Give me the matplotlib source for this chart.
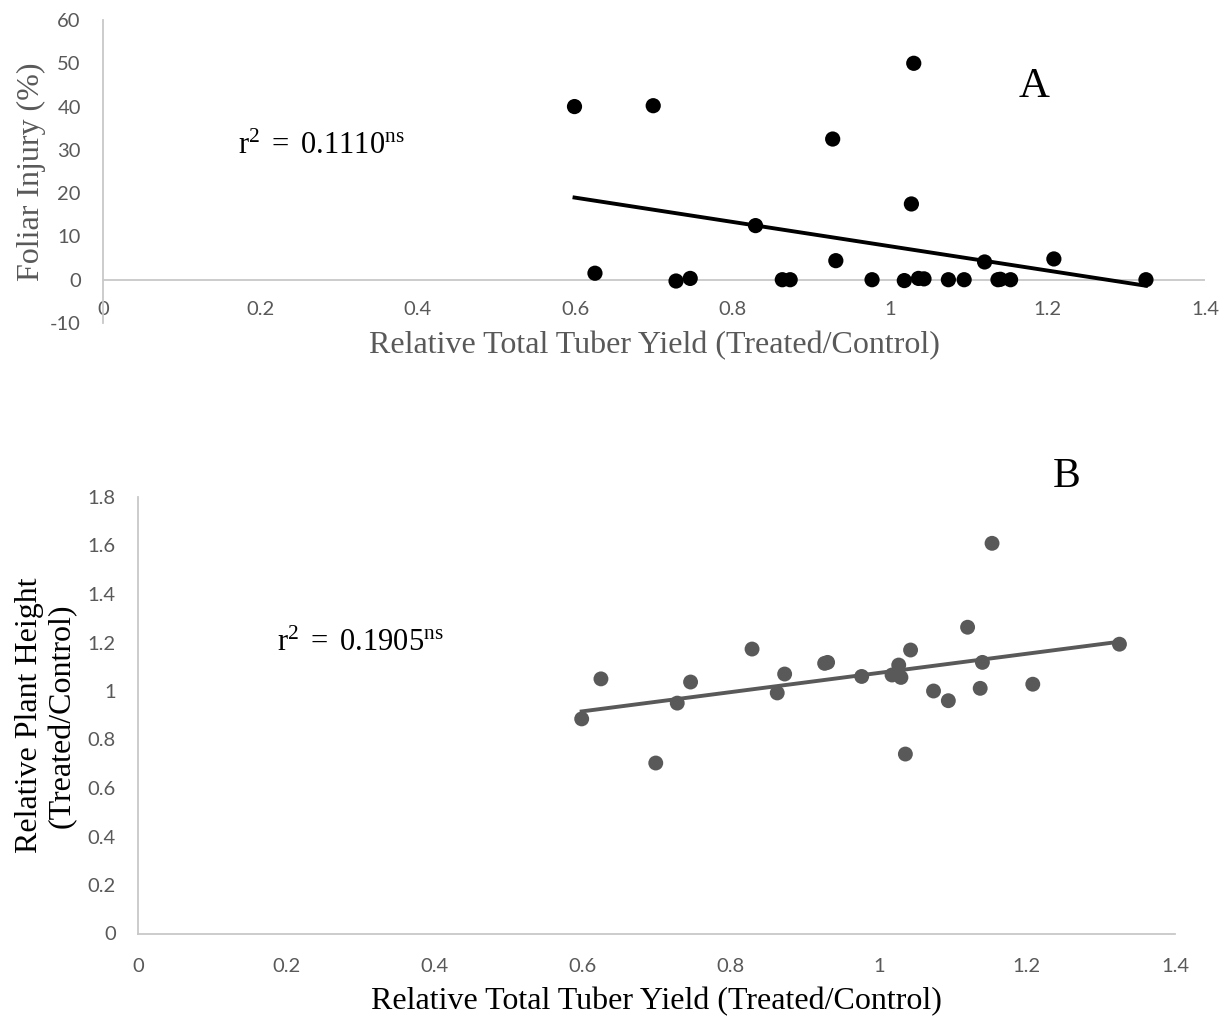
import numpy as np
import matplotlib
matplotlib.use("Agg")
import matplotlib.pyplot as plt

# ---- data ----
yield_rel = [0.599, 0.625, 0.699, 0.728, 0.746, 0.829, 0.863, 0.873, 0.927, 0.931,
             0.977, 1.018, 1.027, 1.030, 1.036, 1.043, 1.074, 1.094, 1.120, 1.137,
             1.140, 1.153, 1.208, 1.325]
foliar_injury = [40.0, 1.5, 40.2, -0.3, 0.3, 12.5, 0.0, 0.0, 32.5, 4.4,
                 0.0, -0.2, 17.5, 50.0, 0.3, 0.2, 0.0, 0.0, 4.1, 0.0,
                 0.1, 0.0, 4.8, 0.0]
plant_height = [0.885, 1.05, 0.703, 0.95, 1.037, 1.173, 0.992, 1.07, 1.114, 1.118,
                1.06, 1.066, 1.107, 1.056, 0.74, 1.169, 1.0, 0.96, 1.263, 1.011,
                1.118, 1.609, 1.028, 1.193]
xticks = [0, 0.2, 0.4, 0.6, 0.8, 1, 1.2, 1.4]
xticklabels = ["0", "0.2", "0.4", "0.6", "0.8", "1", "1.2", "1.4"]
yticks_a = [-10, 0, 10, 20, 30, 40, 50, 60]
yticks_b = [0, 0.2, 0.4, 0.6, 0.8, 1, 1.2, 1.4, 1.6, 1.8]
yticklabels_b = ["0", "0.2", "0.4", "0.6", "0.8", "1", "1.2", "1.4", "1.6", "1.8"]
r2_a = "0.1110"
r2_b = "0.1905"

plt.rcParams['mathtext.fontset'] = 'custom'
plt.rcParams['mathtext.rm'] = 'Liberation Serif'
plt.rcParams['mathtext.it'] = 'Liberation Serif:italic'

W, H = 1230, 1023
fig = plt.figure(figsize=(W / 100, H / 100), dpi=100)

tick_font = dict(family='Lato', size=14.5, color='#595959')
serif = 'Liberation Serif'
gray = '#595959'
axis_gray = '#c8c8c8'

x = np.array(yield_rel)

# ---------------- Panel A ----------------
axA = fig.add_axes([103 / W, 1 - 323 / H, (1205 - 103) / W, (323 - 20) / H])
axA.set_xlim(0, 1.4)
axA.set_ylim(-10, 60)
axA.axhline(0, color=axis_gray, lw=1.3, zorder=1)
axA.scatter(x, foliar_injury, s=120, color='black', edgecolors='none', zorder=3)
ka = np.polyfit(x, foliar_injury, 1)
xl = np.array([x.min(), x.max()])
axA.plot(xl, np.polyval(ka, xl), color='black', lw=2.8, zorder=2)
for s in ['top', 'right', 'bottom']:
    axA.spines[s].set_visible(False)
axA.spines['left'].set_color(axis_gray)
axA.spines['left'].set_linewidth(1.3)
axA.set_xticks(xticks)
axA.set_xticklabels(xticklabels, fontdict=tick_font)
axA.set_yticks(yticks_a)
axA.set_yticklabels([str(v) for v in yticks_a], fontdict=tick_font)
axA.tick_params(axis='x', length=0, pad=-16)
axA.tick_params(axis='y', length=0, pad=16)
axA.set_xlabel("Relative Total Tuber Yield (Treated/Control)", family=serif,
               size=23, color=gray, labelpad=6)
axA.set_ylabel("Foliar Injury (%)", family=serif, size=23, color=gray, labelpad=3)
fig.text(238 / W, 1 - 145 / H, r"$\mathrm{r^{2}\ =\ %s^{ns}}$" % r2_a,
         size=22, ha='left', va='center')
fig.text(1034 / W, 1 - 87 / H, "A", family=serif, size=31, ha='center', va='center')

# ---------------- Panel B ----------------
axB = fig.add_axes([138 / W, 1 - 933.5 / H, (1175 - 138) / W, (933.5 - 497) / H])
axB.set_xlim(0, 1.4)
axB.set_ylim(0, 1.8)
axB.scatter(x, plant_height, s=115, color=gray, edgecolors='none', zorder=3)
kb = np.polyfit(x, plant_height, 1)
axB.plot(xl, np.polyval(kb, xl), color=gray, lw=2.8, zorder=2)
for s in ['top', 'right']:
    axB.spines[s].set_visible(False)
for s in ['left', 'bottom']:
    axB.spines[s].set_color(axis_gray)
    axB.spines[s].set_linewidth(1.3)
axB.set_xticks(xticks)
axB.set_xticklabels(xticklabels, fontdict=tick_font)
axB.set_yticks(yticks_b)
axB.set_yticklabels(yticklabels_b, fontdict=tick_font)
axB.tick_params(axis='x', length=0, pad=18)
axB.tick_params(axis='y', length=0, pad=16)
axB.set_xlabel("Relative Total Tuber Yield (Treated/Control)", family=serif,
               size=23, color='black', labelpad=8)
axB.set_ylabel("Relative Plant Height\n(Treated/Control)", family=serif, size=23,
               color='black', labelpad=8, linespacing=1.15)
fig.text(277 / W, 1 - 642 / H, r"$\mathrm{r^{2}\ =\ %s^{ns}}$" % r2_b,
         size=22, ha='left', va='center')
fig.text(1067 / W, 1 - 477 / H, "B", family=serif, size=30, ha='center', va='center')

fig.savefig("out.png", dpi=100, facecolor='white')
